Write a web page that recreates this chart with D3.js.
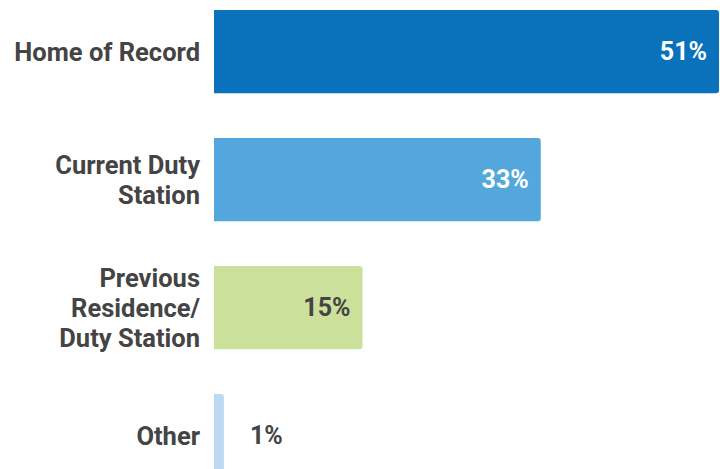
<!DOCTYPE html>
<html>
<head>
<meta charset="utf-8">
<script src="https://cdn.jsdelivr.net/npm/d3@7"></script>
<style>
  html, body { margin: 0; padding: 0; background: #fff; }
  svg { display: block; font-family: Roboto, "Noto Sans", sans-serif; }
</style>
</head>
<body>
<svg id="chart" width="720" height="469"></svg>
<script>
// Where service members chose to locate
const categories = ["Home of Record", "Current Duty Station", "Previous Residence/ Duty Station", "Other"];
const labelLines = [["Home of Record"], ["Current Duty", "Station"], ["Previous", "Residence/", "Duty Station"], ["Other"]];
const values = [51, 33, 15, 1];
const barColors = ["#0a72bb", "#53a7dd", "#cbe19b", "#bbdaf2"];
const valueTextColors = ["#ffffff", "#ffffff", "#444444", "#444444"];

const svg = d3.select("#chart");

const x = d3.scaleLinear().domain([0, 51]).range([214, 719]);
const y = d3.scaleBand().domain(categories).range([10, 477.2]).paddingInner(0.35).paddingOuter(0);

// rectangle with rounded right corners only
function barPath(x0, x1, y0, h, r) {
  r = Math.min(r, (x1 - x0) / 2, h / 2);
  return `M${x0},${y0}H${x1 - r}Q${x1},${y0} ${x1},${y0 + r}V${y0 + h - r}Q${x1},${y0 + h} ${x1 - r},${y0 + h}H${x0}Z`;
}

const rows = svg.selectAll("g.row")
  .data(categories)
  .join("g")
  .attr("class", "row");

rows.append("path")
  .attr("d", (d, i) => barPath(x(0), x(values[i]), y(d), y.bandwidth(), 3))
  .attr("fill", (d, i) => barColors[i]);

// category labels, right-aligned beside the bars
const lineH = 30;
rows.append("text")
  .attr("text-anchor", "end")
  .attr("fill", "#444444")
  .attr("font-weight", 700)
  .attr("font-size", 25.5)
  .each(function(d, i) {
    const lines = labelLines[i];
    const cy = y(d) + y.bandwidth() / 2;
    const t = d3.select(this);
    lines.forEach((ln, k) => {
      t.append("tspan")
        .attr("x", 200)
        .attr("y", cy + (k - (lines.length - 1) / 2) * lineH)
        .attr("dy", "0.35em")
        .text(ln);
    });
  });

// value labels: inside the bar when it fits, otherwise just past its end
rows.append("text")
  .attr("font-weight", 700)
  .attr("font-size", 25)
  .attr("fill", (d, i) => valueTextColors[i])
  .attr("dy", "0.33em")
  .attr("y", d => y(d) + y.bandwidth() / 2)
  .attr("x", (d, i) => values[i] > 5 ? x(values[i]) - 12 : x(values[i]) + 26)
  .attr("text-anchor", (d, i) => values[i] > 5 ? "end" : "start")
  .text((d, i) => values[i] + "%");
</script>
</body>
</html>
